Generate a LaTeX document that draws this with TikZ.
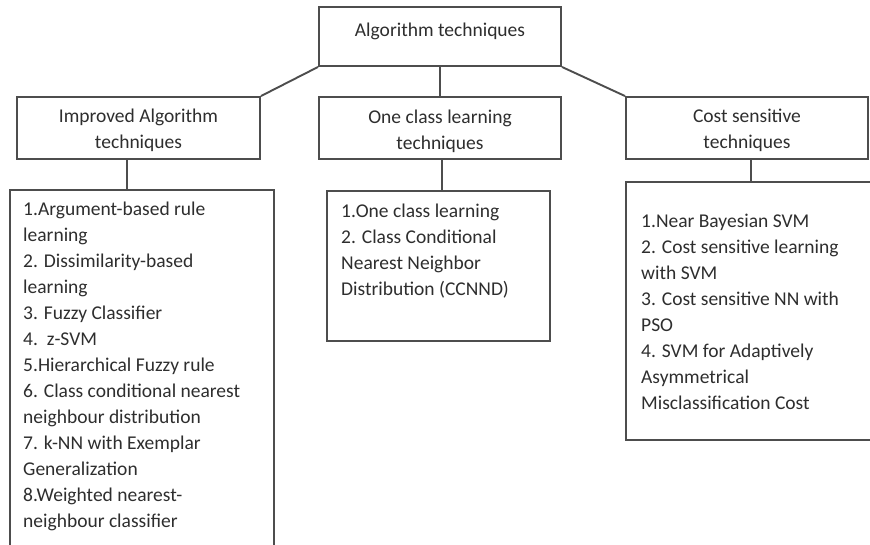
\documentclass[tikz,border=0pt]{standalone}
\usepackage{fontspec}
\setmainfont{Carlito}
\begin{document}
\begin{tikzpicture}[x=1pt,y=-1pt,
  box/.style={draw=linegray, line width=1.9pt, rectangle, inner sep=0pt},
  conn/.style={draw=linegray, line width=1.9pt},
  txt/.style={text=textgray, inner sep=0pt, font=\fontsize{19.5}{26}\selectfont},
  listtxt/.style={txt, align=left, anchor=north west},
  headtxt/.style={txt, align=center}]
\definecolor{linegray}{HTML}{4D4D4D}
\definecolor{textgray}{HTML}{2E2E2E}
\useasboundingbox (0,0) rectangle (870,544);
\fill[white] (0,0) rectangle (870,544);
\clip (0,0) rectangle (870,544);
% boxes
\node[box, minimum width=242pt, minimum height=59pt] (top) at (440,36.5) {};
\node[box, minimum width=243pt, minimum height=62pt] (lefthead) at (138.5,128) {};
\node[box, minimum width=242pt, minimum height=62pt] (midhead) at (440,128) {};
\node[box, minimum width=242pt, minimum height=62pt] (righthead) at (747,128) {};
\node[box, minimum width=264pt, minimum height=370pt] (leftlist) at (142,375) {};
\node[box, minimum width=223pt, minimum height=150pt] (midlist) at (438.5,266) {};
\node[box, minimum width=254pt, minimum height=258pt] (rightlist) at (753,311) {};
% texts
\node[headtxt] (toptext) at (440,31) {Algorithm techniques};
\node[headtxt] (lefttext) at (138.5,130) {Improved Algorithm\\techniques};
\node[headtxt] (midtext) at (440,131) {One class learning\\techniques};
\node[headtxt] (righttext) at (747,130.5) {Cost sensitive\\techniques};
\node[listtxt] (leftitems) at (23,202) {1.Argument-based rule\\learning\\2. Dissimilarity-based\\learning\\3. Fuzzy Classifier\\4.\ \ z-SVM\\5.Hierarchical Fuzzy rule\\6. Class conditional nearest\\neighbour distribution\\7. k-NN with Exemplar\\Generalization\\8.Weighted nearest-\\neighbour classifier};
\node[listtxt] (miditems) at (341,204) {1.One class learning\\2. Class Conditional\\Nearest Neighbor\\Distribution (CCNND)};
\node[listtxt] (rightitems) at (641,214) {1.Near Bayesian SVM\\2. Cost sensitive learning\\with SVM\\3. Cost sensitive NN with\\PSO\\4. SVM for Adaptively\\Asymmetrical\\Misclassification Cost};
% connectors
\draw[conn] (top.south west) -- (lefthead.north east);
\draw[conn] (top.south) -- (midhead.north);
\draw[conn] (top.south east) -- (righthead.north west);
\draw[conn] ([xshift=-11.5pt]lefthead.south) -- ([xshift=-11.5pt]lefthead.south |- leftlist.north);
\draw[conn] ([xshift=2pt]midhead.south) -- ([xshift=2pt]midhead.south |- midlist.north);
\draw[conn] ([xshift=4pt]righthead.south) -- ([xshift=4pt]righthead.south |- rightlist.north);
\end{tikzpicture}
\end{document}
